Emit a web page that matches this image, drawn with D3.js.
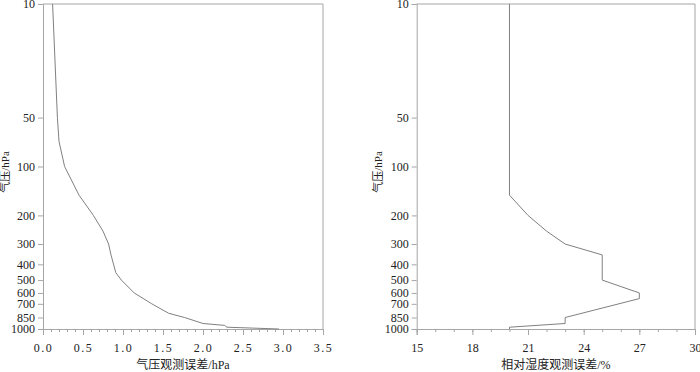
<!DOCTYPE html>
<html>
<head>
<meta charset="utf-8">
<script src="https://cdn.jsdelivr.net/npm/d3@7"></script>
<style>
  body { margin: 0; background: #fff; }
  svg text { font-family: "Liberation Serif", "Times New Roman", serif !important; }
  svg text.cjk { font-family: "Liberation Serif", "Noto Sans CJK SC", serif !important; }
</style>
</head>
<body>
<div id="chart"></div>
<script>
//// data
// pressure levels (hPa) for the left profile
var presLevels = [10, 50, 70, 100, 150, 200, 250, 300, 350, 450, 500, 600, 700, 800, 850, 925, 950, 975, 1000];
// pressure observation error (hPa)
var presErr = [0.12, 0.18, 0.2, 0.27, 0.45, 0.63, 0.75, 0.82, 0.85, 0.91, 0.98, 1.14, 1.36, 1.57, 1.77, 2.0, 2.27, 2.3, 2.95];

// pressure levels (hPa) for the right profile
var rhLevels = [10, 150, 200, 250, 300, 350, 500, 600, 650, 850, 925, 975, 1000];
// relative humidity observation error (%)
var rhErr = [20, 20, 21, 22, 23, 25, 25, 27, 27, 23, 23, 20, 20];

var yTicks = [10, 50, 100, 200, 300, 400, 500, 600, 700, 850, 1000];
var presXTicks = [0, 0.5, 1, 1.5, 2, 2.5, 3, 3.5];
var rhXTicks = [15, 18, 21, 24, 27, 30];

var yTitle = "气压/hPa";
var presTitle = "气压观测误差/hPa";
var rhTitle = "相对湿度观测误差/%";

//// chart
var W = 700, H = 372;
var axisColor = "#a6a6a6", lineColor = "#808080";

var svg = d3.select("#chart")
  .append("svg")
    .attr("width", W)
    .attr("height", H);

function panel(opt) {
  var x = d3.scaleLinear().domain(opt.xDomain).range([opt.x0, opt.x1]);
  var y = d3.scaleLog().domain([10, 1000]).range([4, 329]);

  var g = svg.append("g");

  // frame top + right
  g.append("path")
    .attr("d", "M" + opt.x0 + "," + y(10) + "H" + opt.x1 + "V" + y(1000))
    .attr("fill", "none")
    .attr("stroke", axisColor);

  // y axis
  var ya = g.append("g")
    .attr("transform", "translate(" + opt.x0 + ",0)")
    .call(d3.axisLeft(y).tickValues(yTicks).tickFormat(d3.format("d")).tickSize(5).tickPadding(3));
  ya.attr("font-size", 12);
  ya.select(".domain").attr("stroke", axisColor);
  ya.selectAll(".tick line").attr("stroke", axisColor);
  ya.selectAll("text").attr("fill", "#222");

  // x axis minor
  var xm = g.append("g")
    .attr("transform", "translate(0," + y(1000) + ")")
    .call(d3.axisBottom(x).tickValues(opt.minor).tickFormat("").tickSize(3));
  xm.select(".domain").remove();
  xm.selectAll(".tick line").attr("stroke", axisColor);

  // x axis major
  var xa = g.append("g")
    .attr("transform", "translate(0," + y(1000) + ")")
    .call(d3.axisBottom(x).tickValues(opt.ticks).tickFormat(opt.fmt).tickSize(6).tickPadding(8));
  xa.attr("font-size", 12);
  xa.select(".domain").attr("stroke", axisColor);
  xa.selectAll(".tick line").attr("stroke", axisColor);
  xa.selectAll("text").attr("fill", "#222")
    .style("letter-spacing", opt.spacing);

  // profile line
  var pts = opt.levels.map(function(p, i) { return [opt.values[i], p]; });
  g.append("path")
    .datum(pts)
    .attr("d", d3.line().x(function(d) { return x(d[0]); }).y(function(d) { return y(d[1]); }))
    .attr("fill", "none")
    .attr("stroke", lineColor)
    .attr("stroke-width", 1);

  // titles
  g.append("text")
    .attr("class", "cjk")
    .attr("transform", "translate(" + opt.yLabelX + ",172) rotate(-90)")
    .attr("text-anchor", "middle")
    .attr("dominant-baseline", "middle")
    .attr("font-size", 11)
    .attr("fill", "#222")
    .text(yTitle);

  g.append("text")
    .attr("class", "cjk")
    .attr("x", (opt.x0 + opt.x1) / 2)
    .attr("y", 369)
    .attr("text-anchor", "middle")
    .attr("font-size", 12)
    .attr("fill", "#222")
    .text(opt.title);
}

panel({
  x0: 43, x1: 323, xDomain: [0, 3.5],
  ticks: presXTicks,
  minor: d3.range(0, 36).map(function(i) { return i / 10; }),
  fmt: d3.format(".1f"), spacing: "1.5px",
  levels: presLevels, values: presErr,
  yLabelX: 6, title: presTitle
});

panel({
  x0: 416.7, x1: 695, xDomain: [15, 30],
  ticks: rhXTicks,
  minor: d3.range(15, 31),
  fmt: d3.format("d"), spacing: "0px",
  levels: rhLevels, values: rhErr,
  yLabelX: 379, title: rhTitle
});
</script>
</body>
</html>
